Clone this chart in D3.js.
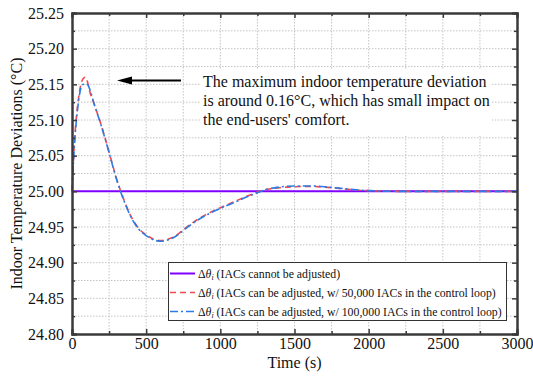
<!DOCTYPE html>
<html><head><meta charset="utf-8">
<script src="https://cdn.jsdelivr.net/npm/d3@7/dist/d3.min.js"></script>
<style>body{margin:0;background:#fff}svg{display:block}text{font-family:"Liberation Serif","DejaVu Serif",serif;fill:#111}</style>
</head><body><svg id="c" width="533" height="378"></svg>
<script>
// ---- data ----
const timeRed  = [0,10,20,30,45,60,75,90,105,120,150,200,250,300,350,400,450,500,550,600,650,700,750,800,900,1000,1100,1200,1250,1300,1400,1500,1600,1700,1800,1900,2000,2200,2500,3000];
const valRed   = [25.000,25.045,25.080,25.105,25.132,25.150,25.158,25.160,25.153,25.140,25.122,25.091,25.055,25.018,24.988,24.964,24.948,24.939,24.933,24.931,24.933,24.938,24.946,24.954,24.967,24.977,24.986,24.995,24.999,25.002,25.005,25.0065,25.0068,25.006,25.004,25.002,25.001,25.000,25.000,25.000];
const timeBlue = [0,10,20,30,45,60,75,90,105,120,150,200,250,300,350,400,450,500,550,600,650,700,750,800,900,1000,1100,1200,1250,1300,1400,1500,1600,1700,1800,1900,2000,2200,2500,3000];
const valBlue  = [25.000,25.040,25.075,25.100,25.128,25.145,25.150,25.151,25.150,25.143,25.122,25.090,25.054,25.017,24.987,24.963,24.947,24.938,24.932,24.930,24.932,24.937,24.945,24.953,24.966,24.976,24.985,24.994,24.998,25.002,25.006,25.0075,25.0075,25.0065,25.0045,25.0025,25.001,25.000,25.000,25.000];
const timeBase = [0,3000];
const valBase  = [25.000,25.000];
const xTicks = [0,500,1000,1500,2000,2500,3000];
const yTicks = [24.80,24.85,24.90,24.95,25.00,25.05,25.10,25.15,25.20,25.25];
const legendLabels = ["(IACs cannot be adjusted)","(IACs can be adjusted, w/ 50,000 IACs in the control loop)","(IACs can be adjusted, w/ 100,000 IACs in the control loop)"];
const noteLines = ["The maximum indoor temperature deviation","is around 0.16\u00B0C, which has small impact on","the end-users' comfort."];

// ---- layout ----
const svg = d3.select("#c");
const L=72, R=517, T=13, B=334;
const x = d3.scaleLinear().domain([0,3000]).range([L,R]);
const y = d3.scaleLinear().domain([24.80,25.25]).range([B,T]);
const axisCol="#3a3a3a";
const serif = "'Liberation Serif','DejaVu Serif',serif";

// grid (major + minor)
const xGrid = d3.range(0,3001,250), yGrid = d3.range(0,19).map(i=>+(24.80+i*0.025).toFixed(3));
const g = svg.append("g");
g.selectAll(".gx").data(xGrid.filter(v=>v>0&&v<3000)).join("line")
 .attr("x1",d=>x(d)).attr("x2",d=>x(d)).attr("y1",T).attr("y2",B)
 .attr("stroke","#c4c4c4").attr("stroke-width",1).attr("stroke-dasharray","1.5,1.5");
g.selectAll(".gy").data(yGrid.filter(v=>v>24.80&&v<25.25)).join("line")
 .attr("x1",L).attr("x2",R).attr("y1",d=>y(d)).attr("y2",d=>y(d))
 .attr("stroke","#c4c4c4").attr("stroke-width",1).attr("stroke-dasharray","1.5,1.5");

// annotation background
svg.append("rect").attr("x",200).attr("y",69).attr("width",292).attr("height",66).attr("fill","#fff");

// lines
const line = (ts,vs)=>d3.line().x((d,i)=>x(ts[i])).y((d,i)=>y(vs[i])).curve(d3.curveMonotoneX)(vs);
svg.append("path").attr("d",line(timeBase,valBase)).attr("fill","none").attr("stroke","#8000ff").attr("stroke-width",2);
svg.append("path").attr("d",line(timeRed,valRed)).attr("fill","none").attr("stroke","#f0484f").attr("stroke-width",1.6).attr("stroke-dasharray","6,4");
svg.append("path").attr("d",line(timeBlue,valBlue)).attr("fill","none").attr("stroke","#2a7be4").attr("stroke-width",1.6).attr("stroke-dasharray","8,3,2,3");

// axes (all four sides, inward ticks)
const fmtY = d3.format(".2f");
svg.append("g").attr("transform",`translate(0,${B})`).call(d3.axisBottom(x).tickValues(xTicks).tickSize(-5).tickPadding(4).tickFormat(d3.format("d")));
svg.append("g").attr("transform",`translate(${L},0)`).call(d3.axisLeft(y).tickValues(yTicks).tickSize(-5).tickPadding(8).tickFormat(fmtY));
svg.append("g").attr("transform",`translate(0,${T})`).call(d3.axisTop(x).tickValues(xTicks).tickSize(-5).tickFormat(""));
svg.append("g").attr("transform",`translate(${R},0)`).call(d3.axisRight(y).tickValues(yTicks).tickSize(-5).tickFormat(""));
// minor ticks
const xMinor = xGrid.filter(v=>v%500!==0), yMinor = yGrid.filter((v,i)=>i%2===1);
svg.append("g").attr("transform",`translate(0,${B})`).call(d3.axisBottom(x).tickValues(xMinor).tickSize(-3).tickFormat(""));
svg.append("g").attr("transform",`translate(0,${T})`).call(d3.axisTop(x).tickValues(xMinor).tickSize(-3).tickFormat(""));
svg.append("g").attr("transform",`translate(${L},0)`).call(d3.axisLeft(y).tickValues(yMinor).tickSize(-3).tickFormat(""));
svg.append("g").attr("transform",`translate(${R},0)`).call(d3.axisRight(y).tickValues(yMinor).tickSize(-3).tickFormat(""));
svg.selectAll("g").attr("font-family",serif);
svg.selectAll(".domain").attr("stroke",axisCol).attr("stroke-width",2);
svg.selectAll(".tick line").attr("stroke",axisCol).attr("stroke-width",1.5);
svg.selectAll(".tick text").style("font-family",serif).style("font-size","16px").attr("fill","#111");

// axis titles
svg.append("text").attr("x",(L+R)/2).attr("y",367.5).attr("text-anchor","middle").style("font-size","16px").text("Time (s)");
svg.append("text").attr("transform",`translate(22,${(T+B)/2}) rotate(-90)`).attr("text-anchor","middle").style("font-size","16px").text("Indoor Temperature Deviations (\u00B0C)");

// annotation
noteLines.forEach((t,i)=>svg.append("text").attr("x",203).attr("y",87+i*19.2).style("font-size","16px").text(t));
const ay = y(25.1555);
svg.append("line").attr("x1",181).attr("x2",127).attr("y1",ay).attr("y2",ay).attr("stroke","#000").attr("stroke-width",2);
svg.append("path").attr("d",`M117,${ay} L132,${ay-4} L132,${ay+4} Z`).attr("fill","#000");

// legend
const lg = svg.append("g");
lg.append("rect").attr("x",168.5).attr("y",262.5).attr("width",338).attr("height",58).attr("fill","#fff").attr("stroke","#333").attr("stroke-width",1);
const lstyles=[{c:"#8000ff",d:null,w:2},{c:"#f0484f",d:"6,4",w:1.6},{c:"#2a7be4",d:"8,3,2,3",w:1.6}];
const rowY=[273.5,292.5,311.5];
legendLabels.forEach((lab,i)=>{
  lg.append("line").attr("x1",170).attr("x2",195).attr("y1",rowY[i]).attr("y2",rowY[i])
    .attr("stroke",lstyles[i].c).attr("stroke-width",lstyles[i].w).attr("stroke-dasharray",lstyles[i].d);
  const t = lg.append("text").attr("x",198).attr("y",rowY[i]+4).style("font-size","11.8px");
  t.append("tspan").text("\u0394");
  t.append("tspan").style("font-style","italic").text("\u03B8");
  t.append("tspan").attr("dy",2).style("font-size","8px").style("font-style","italic").text("i");
  t.append("tspan").attr("dy",-2).text(" "+lab);
});
</script></body></html>
